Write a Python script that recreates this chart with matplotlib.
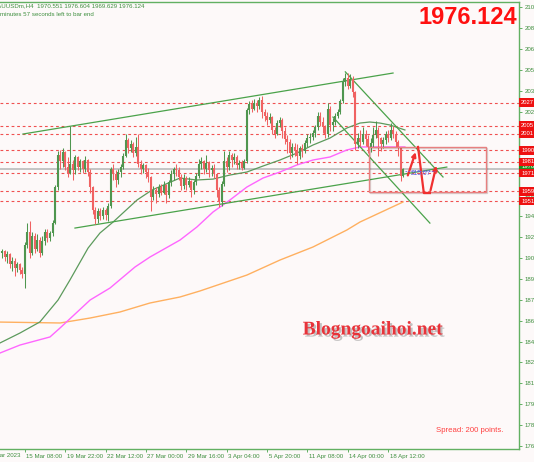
import matplotlib
matplotlib.use("Agg")
import matplotlib.pyplot as plt
import matplotlib.transforms as mtransforms
import matplotlib.patheffects as pe
from matplotlib.patches import Rectangle

plt.rcParams["font.family"] = ["Liberation Sans", "DejaVu Sans"]

# ---------------- data ----------------
first_open = 1912.0
closes = [1913,1909,1911,1903,1906,1900,1903,1899,1896,1918,
          1928,1912,1925,1915,1922,1912,1921,1928,1923,1927,
          1935,1962,1987,1982,1989,1978,1973,1980,1975,1985,
          1978,1982,1976,1983,1974,1962,1945,1938,1944,1940,
          1945,1941,1948,1976,1972,1968,1974,1978,1986,1998,
          1992,1995,1988,1993,1980,1976,1979,1974,1970,1955,
          1960,1957,1962,1958,1964,1956,1966,1972,1976,1975,
          1970,1963,1969,1964,1967,1960,1966,1971,1980,1982,
          1976,1981,1975,1977,1972,1960,1951,1965,1982,1978,
          1987,1983,1985,1979,1981,1977,1982,2021,2026,2022,
          2027,2024,2029,2020,2017,2014,2016,2006,2003,2011,
          2014,2005,1999,1997,1988,1993,1990,1986,1992,1990,
          1996,2000,2001,2004,2008,2017,2012,2008,2003,2022,
          2010,2012,2017,2020,2028,2043,2046,2040,2045,2035,
          1995,2000,1997,2003,1999,1993,1996,2002,2006,2000,
          1995,1998,2003,2000,2006,2003,1997,1992,1970.551,1976.124]
highs = [1915,1914,1913,1912,1909,1908,1905,1904,1901,1920,
         1935,1936,1928,1927,1926,1924,1925,1930,1930,1929,
         1937,1964,1990,1991,1992,1990,1985,2009,1983,1987,
         1986,1984,1983,1986,1984,1976,1963,1947,1946,1946,
         1947,1946,1950,1978,1980,1975,1976,1980,1988,2003,
         2000,1998,1997,2001,2003,1983,1981,1980,1977,1971,
         1963,1962,1965,1965,1967,1965,1968,1975,1978,1980,
         1978,1972,1972,1971,1970,1968,1968,1973,1984,1985,
         1983,1987,1982,1979,1980,1973,1962,1967,1990,1985,
         1990,1988,1988,1987,1983,1983,1984,2023,2028,2029,
         2030,2029,2031,2032,2022,2020,2019,2017,2008,2014,
         2016,2015,2008,2002,1999,1996,1996,1995,1994,1995,
         1998,2003,2004,2006,2010,2020,2020,2016,2010,2027,
         2024,2015,2019,2022,2030,2046,2050,2050,2049,2047,
         2036,2004,2006,2008,2006,2002,2000,2008,2013,2008,
         2001,2001,2005,2006,2011,2009,2005,1998,1993,1976.604]
lows = [1908,1906,1904,1900,1898,1894,1897,1896,1893,1885,
        1916,1908,1910,1912,1913,1909,1910,1918,1920,1921,
        1925,1934,1960,1976,1978,1975,1970,1972,1968,1972,
        1975,1974,1973,1974,1971,1958,1942,1934,1935,1937,
        1938,1937,1936,1946,1968,1962,1965,1970,1976,1985,
        1988,1989,1985,1986,1978,1972,1973,1969,1966,1944,
        1952,1950,1955,1956,1957,1950,1954,1963,1968,1971,
        1968,1960,1961,1960,1962,1955,1957,1964,1969,1976,
        1972,1974,1970,1971,1969,1955,1947,1948,1963,1974,
        1975,1978,1980,1976,1976,1975,1976,1981,2018,2020,
        2021,2020,2022,2015,2013,2010,2011,2003,2000,2002,
        2008,2000,1995,1988,1984,1985,1986,1980,1984,1985,
        1988,1993,1996,1998,2001,2006,2009,2004,2000,2001,
        2005,2005,2010,2015,2018,2027,2040,2037,2038,2031,
        1991,1992,1994,1995,1994,1988,1989,1993,2000,1986,
        1990,1992,1995,1997,1998,2000,1993,1986,1967,1969.629]

# moving averages (bar index, price)
ma_green_x = [-0.8, 7.1, 15, 22.2, 26.9, 34.1, 38.8, 44, 53.5, 59.4, 70.5, 77.2, 83.6,
              90.3, 97, 103.4, 110.1, 116.8, 123.2, 129.9, 136.6, 141.8, 145.7, 149.7, 153.7, 159.6]
ma_green_y = [1842.9, 1850.5, 1859, 1875.8, 1891.1, 1915.6, 1927.1, 1935.5, 1952.4, 1960, 1969.2,
              1967.7, 1968.4, 1971.5, 1973.8, 1978.4, 1983, 1988.3, 1994.5, 1999.8, 2007.5, 2011.3,
              2012.1, 2011.3, 2009.8, 2006]
ma_pink_x = [-0.8, 7.1, 19, 23, 34.9, 42.8, 52.7, 58.6, 70.5, 77.2, 83.6, 90.3, 97, 103.4,
             110.1, 116.8, 123.2, 129.9, 136.6, 141.8, 145.7, 159.6]
ma_pink_y = [1835.2, 1841.3, 1847.5, 1854.4, 1875.8, 1885, 1901.1, 1908.7, 1921.7, 1931.7, 1943.2,
             1952.4, 1962.3, 1969.2, 1973.8, 1979.2, 1983, 1985.3, 1990.7, 1993, 1993, 1993]
ma_orange_x = [-0.8, 23, 34.9, 46.7, 58.6, 70.5, 78.4, 97, 110.1, 123.2, 136.6, 141.8, 158.8]
ma_orange_y = [1858.9, 1858.2, 1862, 1866.6, 1873.5, 1878.1, 1882.7, 1894.9, 1906.4, 1916.4,
               1929.4, 1935.5, 1950.8]

# trend lines: (x0, y0, x1, y1) in bar index / price
trend_lines = [(8.3, 2002.9, 154.9, 2049.6),
               (28.9, 1930.9, 176.2, 1977.6),
               (136.0, 2050.5, 174.7, 1970.0),
               (131.1, 2015.9, 169.5, 1934.7)]

level_prices = [2026.9, 2009.3, 2003.2, 1990.4, 1981.5, 1972.9, 1959.0, 1951.6]
level_labels = ["2027", "2005", "2001", "1990", "1981", "1971", "1959", "1951"]

current_price = 1976.124

ytick_vals = [1764 + 16 * k for k in range(22)]
ytick_labels = ["1764", "1780", "1796", "1812", "1828", "1844", "1860", "1876", "1892", "1908",
                "1924", "1940", "1956", "1972", "1988", "2004", "2020", "2036", "2052", "2068",
                "2083", "2100"]

xtick_pos = [-7, 9, 25, 41, 57, 73, 89, 105, 121, 137, 153]
xtick_labels = ["13 Mar 2023", "15 Mar 08:00", "19 Mar 22:00", "22 Mar 12:00", "27 Mar 00:00",
                "29 Mar 16:00", "3 Apr 04:00", "5 Apr 20:00", "11 Apr 08:00", "14 Apr 00:00",
                "18 Apr 12:00"]

box_x = (145.3, 191.7)
box_y = (1958.5, 1993.0)
zig_x = [160.4, 164.8, 167.1, 169.5, 172.3]
zig_y = [1969.2, 1993.0, 1957.7, 1957.7, 1980.7]

XMIN, XMAX = -0.8, 204.8
YMIN, YMAX = 1761.7, 2104.0

# ---------------- figure ----------------
BG = "#fdf9f9"
GREEN_TXT = "#3f8f3f"
SMALL = 4.4
fig = plt.figure(figsize=(5.34, 4.62), dpi=100, facecolor=BG)
ax = fig.add_axes([0, 1 - 449 / 462, 519 / 534, 447 / 462])
ax.set_facecolor(BG)

# candles
opens = [first_open] + closes[:-1]
for i, (o, h, l, c) in enumerate(zip(opens, highs, lows, closes)):
    col = "#4f964f" if c >= o else "#f06262"
    ax.plot([i, i], [l, h], color=col, lw=0.75, solid_capstyle="butt", zorder=3)
    lo, hi = min(o, c), max(o, c)
    if hi - lo < 0.6:
        hi = lo + 0.6
    ax.plot([i, i], [lo, hi], color=col, lw=1.5, solid_capstyle="butt", zorder=3)

# moving averages
ax.plot(ma_orange_x, ma_orange_y, color="#ffb060", lw=1.0, zorder=2)
ax.plot(ma_pink_x, ma_pink_y, color="#ff66ff", lw=1.0, zorder=2)
ax.plot(ma_green_x, ma_green_y, color="#5c9a5c", lw=0.9, zorder=2)

# trend lines
for (x0, y0, x1, y1) in trend_lines:
    ax.plot([x0, x1], [y0, y1], color="#4aa24a", lw=0.9, zorder=2)

# horizontal levels
for p in level_prices:
    ax.axhline(p, color="#f05050", lw=0.8, ls=(0, (2.5, 2.5)), zorder=1)
ax.axhline(current_price, color="#c4c4c4", lw=1.4, zorder=1)

# red box
ax.add_patch(Rectangle((box_x[0], box_y[0]), box_x[1] - box_x[0], box_y[1] - box_y[0],
                       fill=False, ec="#e88080", lw=1.0, zorder=4,
                       path_effects=[pe.SimpleLineShadow(offset=(1, -1), alpha=0.15), pe.Normal()]))
# zigzag arrows
ax.annotate("", xy=(zig_x[1] - 0.6, zig_y[1] - 2), xytext=(zig_x[0], zig_y[0]),
            arrowprops=dict(arrowstyle="-|>", color="#f03030", lw=1.6, mutation_scale=6), zorder=5)
ax.plot(zig_x[1:4], zig_y[1:4], color="#f03030", lw=1.6, zorder=5)
ax.annotate("", xy=(zig_x[4], zig_y[4]), xytext=(zig_x[3], zig_y[3]),
            arrowprops=dict(arrowstyle="-|>", color="#f03030", lw=1.6, mutation_scale=6), zorder=5)
ax.plot([159.5, 171.5], [1974.5, 1974.5], color="#6a6ae0", lw=0.6, ls=(0, (2, 1.5)), zorder=5)
ax.text(166.0, 1972.5, "215.67", color="#6060e0", fontsize=4.8, ha="center", va="center", zorder=6)

# spines / ticks
ax.spines["left"].set_visible(False)
for s in ["top", "right", "bottom"]:
    ax.spines[s].set_color("#62b062")
    ax.spines[s].set_linewidth(1.0)
ax.yaxis.tick_right()
ax.set_yticks(ytick_vals)
ax.set_yticklabels(ytick_labels)
ax.tick_params(axis="y", colors="#62b062", labelcolor=GREEN_TXT, length=2.5, width=0.7,
               labelsize=SMALL, pad=1.5)
ax.set_xticks(xtick_pos[1:])
ax.set_xticklabels(xtick_labels[1:], ha="left")
ax.tick_params(axis="x", colors="#62b062", labelcolor=GREEN_TXT, length=2.5, width=0.7,
               labelsize=SMALL, pad=1.2)
for lab in ax.get_xticklabels():
    lab.set_transform(lab.get_transform() + mtransforms.ScaledTranslation(1.5 / 100, 0, fig.dpi_scale_trans))
ax.set_xlim(XMIN, XMAX)
ax.set_ylim(YMIN, YMAX)

# first date label lies left of the visible area (partly cut)
ax.annotate(xtick_labels[0], xy=(xtick_pos[0], 0), xycoords=("data", "axes fraction"),
            xytext=(1.1, -2.6), textcoords="offset points", ha="left", va="top",
            color=GREEN_TXT, fontsize=SMALL, annotation_clip=False)

# right-side price labels
btrans = mtransforms.blended_transform_factory(ax.transAxes, ax.transData)
ax.text(1.004, current_price + 2.0, "1976", transform=btrans, color="white", fontsize=4.2,
        ha="left", va="center", clip_on=False, zorder=9,
        bbox=dict(boxstyle="square,pad=0.3", fc="#209020", ec="none"))
for p, lab in zip(level_prices, level_labels):
    ax.text(1.004, p, lab, transform=btrans, color="white", fontsize=4.2, ha="left", va="center",
            clip_on=False, zorder=10, bbox=dict(boxstyle="square,pad=0.3", fc="#ee1111", ec="none"))

# header texts
fig.text(-7 / 534, 1 - 6 / 462, "XAUUSDm,H4  1970.551 1976.604 1969.629 1976.124",
         color=GREEN_TXT, fontsize=SMALL, ha="left", va="center")
fig.text(0 / 534, 1 - 15 / 462, "minutes 57 seconds left to bar end",
         color=GREEN_TXT, fontsize=SMALL, ha="left", va="center")
fig.text(517 / 534, 1 - 18 / 462, "1976.124", color="#ff1010", fontsize=17, fontweight="bold",
         ha="right", va="center")

# watermark
fig.text(373 / 534, 1 - 330 / 462, "Blogngoaihoi.net", color="#e8333a", fontsize=14,
         fontweight="bold", family="Liberation Serif", ha="center", va="center",
         path_effects=[pe.withSimplePatchShadow(offset=(1.5, -1.5), shadow_rgbFace="#888888", alpha=0.5)])

fig.text(470 / 534, 1 - 431 / 462, "Spread: 200 points.", color="#ff4040", fontsize=5.6,
         ha="center", va="center")

fig.savefig("out.png", dpi=100, facecolor=BG)
